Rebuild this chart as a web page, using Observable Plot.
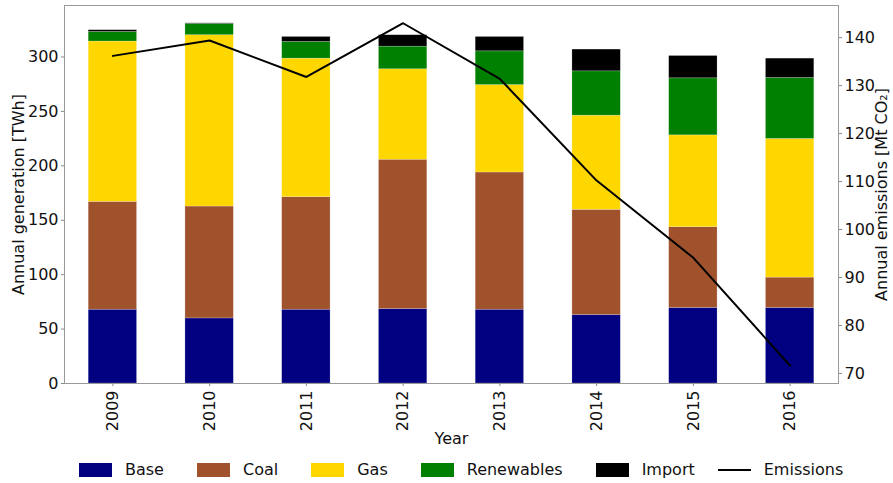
<!DOCTYPE html>
<html>
<head>
<meta charset="utf-8">
<script src="https://cdn.jsdelivr.net/npm/d3@7"></script>
<script src="https://cdn.jsdelivr.net/npm/@observablehq/plot@0.6"></script>
<style>
  html, body { margin: 0; padding: 0; background: #fff; }
  body { width: 893px; height: 483px; overflow: hidden; font-family: "DejaVu Sans", sans-serif; }
  #legend { display: flex; align-items: center; height: 33px; margin-top: 3px; padding-left: 79px; font-size: 16px; color: #111; }
  #legend .item { display: flex; align-items: center; margin-right: 33px; }
  #legend .sw { width: 33px; height: 14px; margin-right: 13px; }
  #legend .ln { width: 33px; height: 2px; background: #000; margin-right: 13px; }
</style>
</head>
<body>
<div id="chart"></div>
<div id="legend"></div>
<script>
const years = ["2009", "2010", "2011", "2012", "2013", "2014", "2015", "2016"];
const categories = ["Base", "Coal", "Gas", "Renewables", "Import"];
const colors = ["#000080", "#a0522d", "#ffd700", "#008000", "#000000"];
const base = [67.8, 59.8, 67.8, 68.4, 67.8, 62.9, 69.4, 69.4];
const coal = [99.1, 102.8, 103.4, 137.2, 126.1, 96.7, 74.2, 27.9];
const gas = [147.3, 157.4, 127.3, 83.1, 80.3, 86.5, 84.4, 127.4];
const renewables = [8.8, 10.4, 15.3, 20.8, 31.0, 40.7, 52.4, 56.0];
const imports = [1.6, 0.5, 4.6, 10.5, 13.2, 20.0, 20.5, 17.8];
const emissions = [136.2, 139.4, 131.8, 143.0, 131.4, 110.2, 94.1, 71.6];
const genTicks = [0, 50, 100, 150, 200, 250, 300];
const emTicks = [70, 80, 90, 100, 110, 120, 130, 140];

const series = [base, coal, gas, renewables, imports];
const rows = [];
categories.forEach((c, ci) => years.forEach((y, i) => rows.push({year: y, cat: c, value: series[ci][i]})));

const genDomain = [0, 347.3];
const emDomain = [67.9, 146.7];
const e2y = d3.scaleLinear(emDomain, genDomain);
const lineData = years.map((y, i) => ({year: y, v: e2y(emissions[i])}));

const chart = Plot.plot({
  width: 893,
  height: 450,
  marginTop: 5,
  marginBottom: 67,
  marginLeft: 64,
  marginRight: 55,
  style: {fontFamily: "DejaVu Sans, sans-serif", fontSize: "16px", color: "#111"},
  x: {domain: years, paddingInner: 0.5, paddingOuter: 0.25, round: false},
  y: {domain: genDomain},
  color: {domain: categories, range: colors},
  marks: [
    Plot.barY(rows, {x: "year", y: "value", fill: "cat", order: categories, stroke: "#ffffff", strokeOpacity: 0.35, strokeWidth: 0.6}),
    Plot.line(lineData, {x: "year", y: "v", stroke: "#000", strokeWidth: 2}),
    Plot.axisX({tickRotate: -90, tickSize: 3, tickPadding: 4, stroke: "#888", label: "Year", labelAnchor: "center", labelOffset: 60, labelArrow: "none", fontSize: 16}),
    Plot.axisY({anchor: "left", ticks: genTicks, tickSize: 3, tickPadding: 3, stroke: "#888", label: "Annual generation [TWh]", labelAnchor: "center", labelOffset: 52, labelArrow: "none", fontSize: 16}),
    Plot.axisY({anchor: "right", ticks: emTicks.map(e2y), tickFormat: d => Math.round(e2y.invert(d)), tickSize: 3, tickPadding: 3, stroke: "#888", label: "Annual emissions [Mt CO₂]", labelAnchor: "center", labelOffset: 48, labelArrow: "none", fontSize: 16}),
    Plot.frame({stroke: "#999"})
  ]
});
document.getElementById("chart").appendChild(chart);

const legend = document.getElementById("legend");
categories.forEach((c, i) => {
  const it = document.createElement("div");
  it.className = "item";
  const sw = document.createElement("div");
  sw.className = "sw";
  sw.style.background = colors[i];
  it.appendChild(sw);
  it.appendChild(document.createTextNode(c));
  if (i === categories.length - 1) it.style.marginRight = "23px";
  legend.appendChild(it);
});
const li = document.createElement("div");
li.className = "item";
const ln = document.createElement("div");
ln.className = "ln";
li.appendChild(ln);
li.appendChild(document.createTextNode("Emissions"));
legend.appendChild(li);
</script>
</body>
</html>
